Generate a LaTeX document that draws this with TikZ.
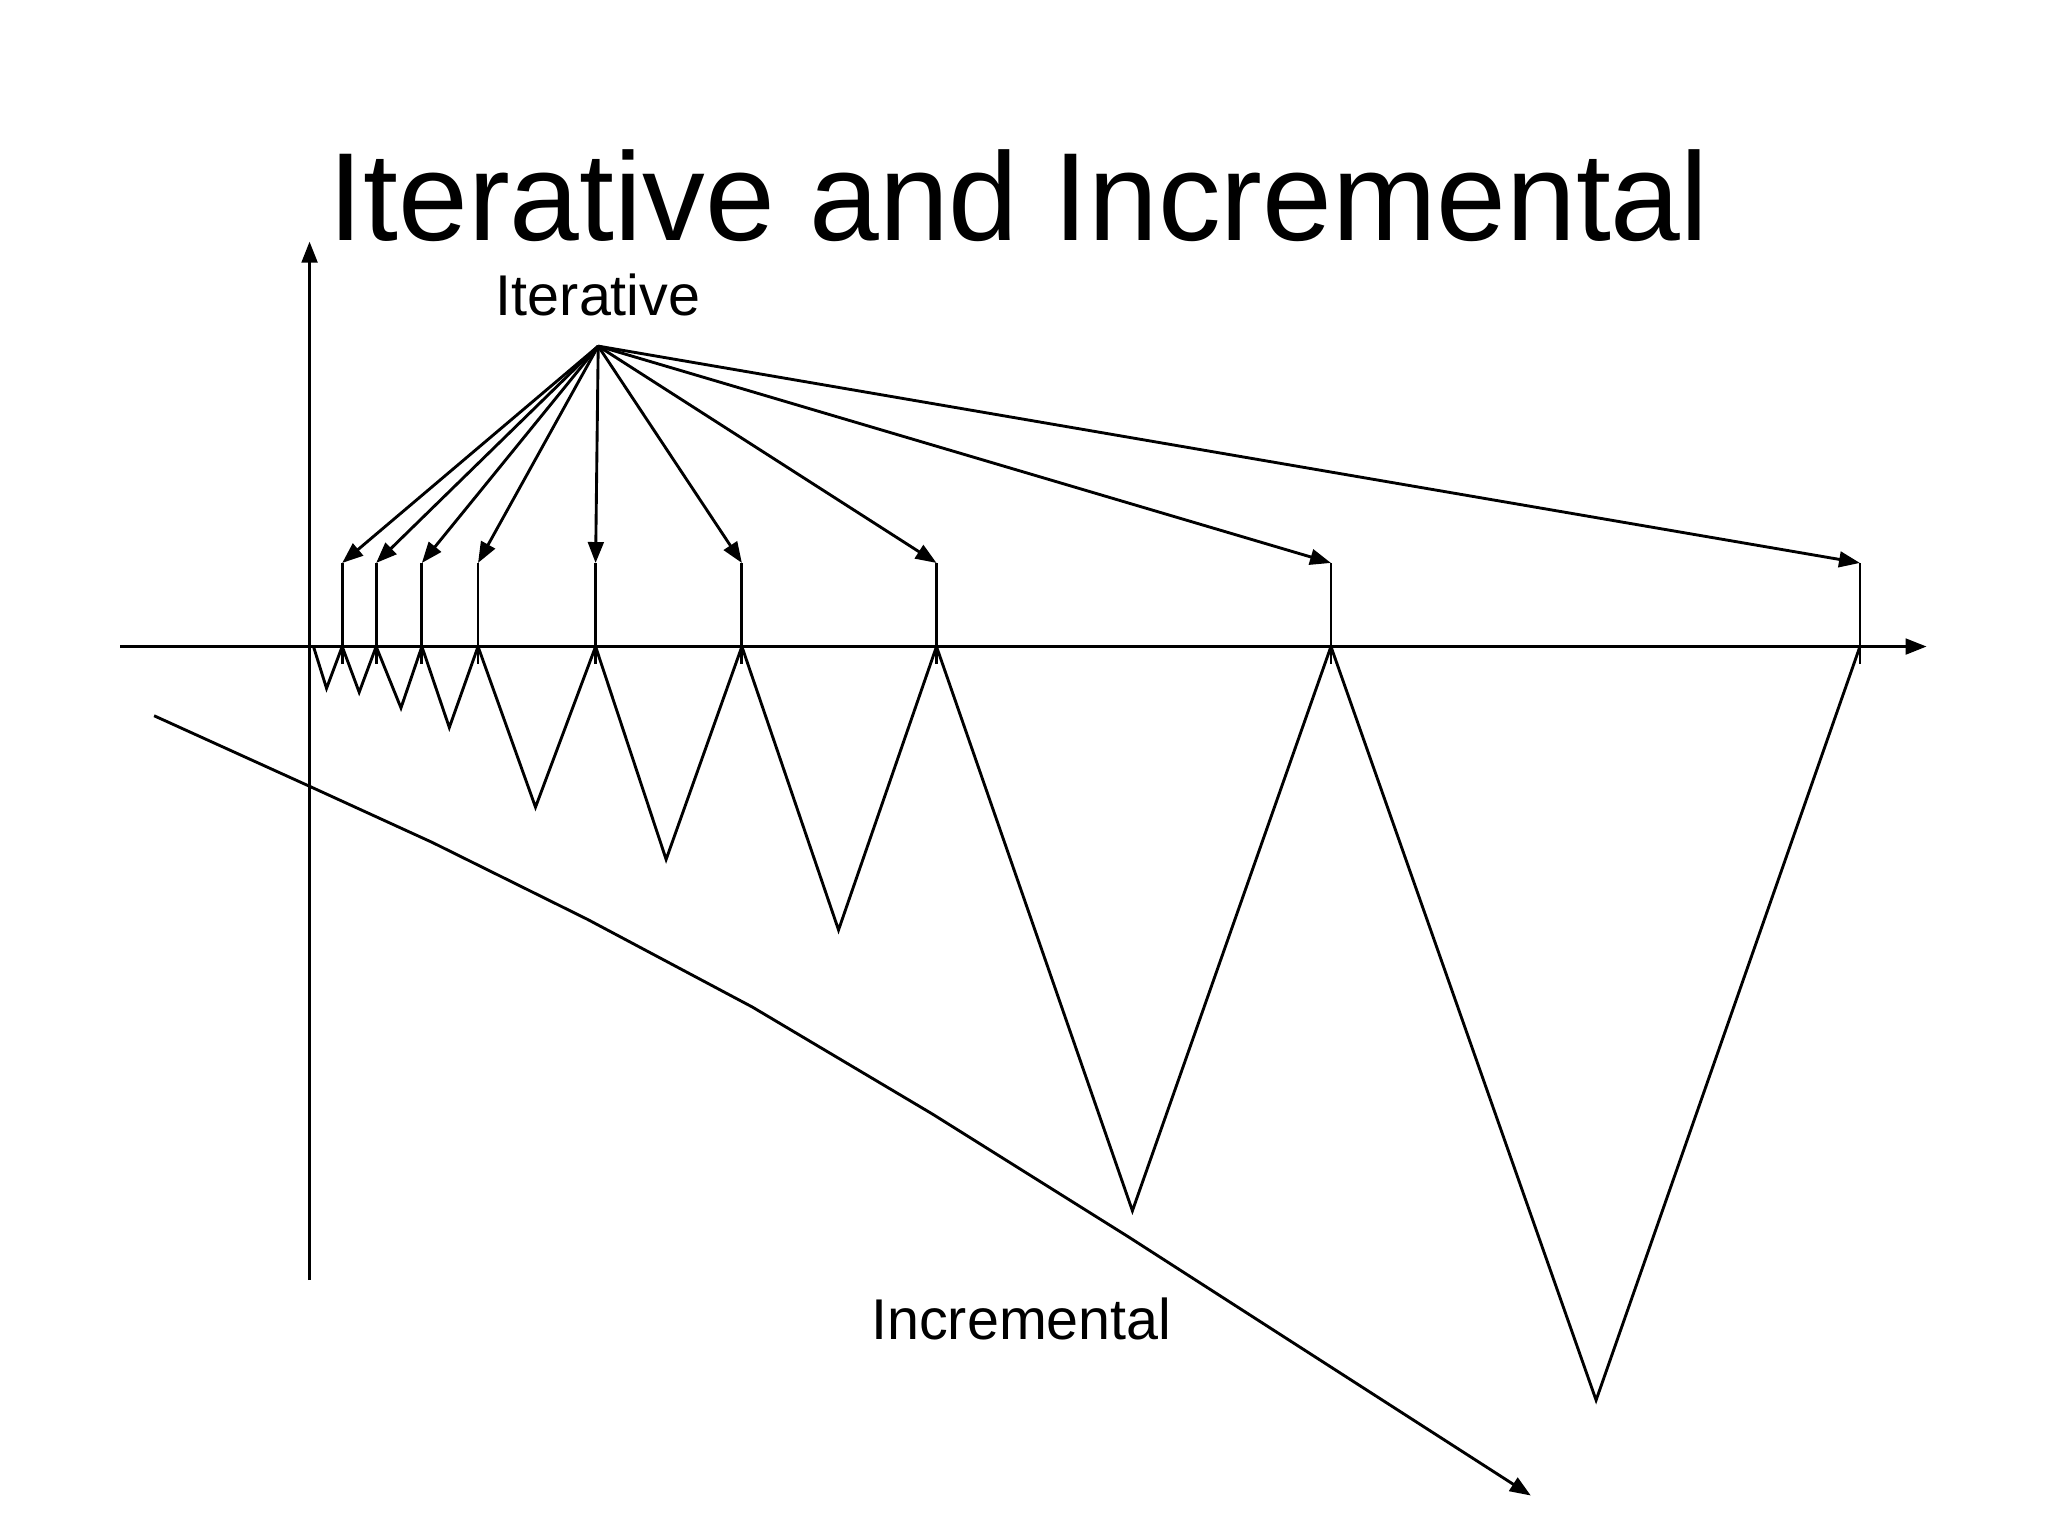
\documentclass[tikz,border=0pt]{standalone}
\usepackage{fontspec}
\setmainfont{Liberation Sans}
\usetikzlibrary{arrows.meta}
\begin{document}
\begin{tikzpicture}[x=0.5pt,y=-0.5pt,line width=1.1pt,
  arr/.style={-{Triangle[length=8pt,width=6pt]}},
  lbl/.style={inner sep=0pt,font=\fontsize{22}{26}\selectfont}]
\useasboundingbox (0,0) rectangle (1568,1176);
\node[inner sep=0pt,font=\fontsize{48}{56}\selectfont] (title) at (780,150) {Iterative and Incremental};
\node[lbl] (it) at (458,226) {Iterative};
\node[lbl] (inc) at (782,1010) {Incremental};
\coordinate (xs) at (92,495); \coordinate (xe) at (1475,495);
\coordinate (ys) at (237,980); \coordinate (ye) at (237,185);
\draw[arr] (xs) -- (xe);
\draw[arr] (ys) -- (ye);
\coordinate (src) at (458,265);
\foreach \x [count=\i] in {262,288,323,366,456,568,717,1019,1424}{
  \coordinate (t\i) at (\x,431);
  \coordinate (b\i) at (\x,508);
  \draw (b\i) -- (t\i);
  \draw[arr] (src) -- (t\i);
}
\draw[line join=miter] (240,495) -- (250,527) -- (262,495) -- (275,530) -- (288,495) -- (307,542) -- (323,495) -- (344,557) -- (366,495) -- (410,618) -- (456,495) -- (510,658) -- (568,495) -- (642,712) -- (717,495) -- (867,927) -- (1019,495) -- (1222,1072) -- (1424,495);
\coordinate (i0) at (118,548);
\coordinate (i7) at (1172,1145);
\draw[arr] (i0) -- (237,602) -- (331,645) -- (450,704) -- (576,771) -- (714,853) -- (864,947) -- (i7);
\end{tikzpicture}
\end{document}
